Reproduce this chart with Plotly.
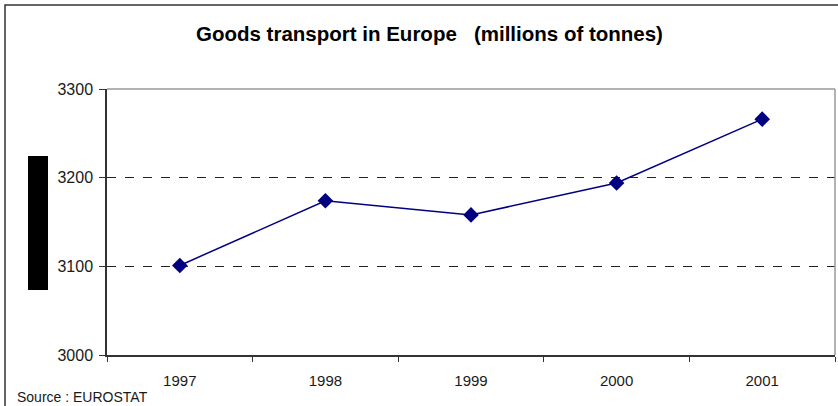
import plotly.graph_objects as go

years = ["1997", "1998", "1999", "2000", "2001"]
tonnes = [3101, 3174, 3158, 3194, 3266]
y_ticks = [3000, 3100, 3200, 3300]

W, H = 838, 406
L, R, T, B = 107, 835, 89, 355
pw, ph = R - L, B - T

def px(x):
    return (x - L) / pw

def py(y):
    return (B - y) / ph

fig = go.Figure()
fig.add_trace(go.Scatter(
    x=years, y=tonnes, mode="lines+markers",
    line=dict(color="#000080", width=1.5),
    marker=dict(symbol="diamond", size=12, color="#000080"),
    showlegend=False, cliponaxis=False,
))

fig.update_layout(
    width=W, height=H,
    margin=dict(l=L, r=W - R, t=T, b=H - B),
    paper_bgcolor="white", plot_bgcolor="white",
    font=dict(family="Liberation Sans, Arial, sans-serif", size=13, color="#1a1a1a"),
    xaxis=dict(
        type="category", tickson="boundaries", ticks="outside", ticklen=5,
        tickcolor="#333333", showgrid=False, showline=True, linecolor="#333333",
        linewidth=1.5, mirror=False, ticklabelstandoff=11,
        range=[-0.5, 4.5], tickfont=dict(size=15),
    ),
    yaxis=dict(
        range=[3000, 3300], tickvals=y_ticks, ticks="outside", ticklen=6,
        tickcolor="#333333", showline=True, linecolor="#333333", linewidth=1.5,
        showgrid=True, gridcolor="#222222", griddash="dash", gridwidth=1,
        zeroline=False, ticklabelstandoff=3, tickfont=dict(size=16),
    ),
    shapes=[
        dict(type="line", xref="paper", yref="paper", x0=0, x1=1, y0=1, y1=1,
             line=dict(color="#999999", width=1.5)),
        dict(type="line", xref="paper", yref="paper", x0=1, x1=1, y0=0, y1=1,
             line=dict(color="#999999", width=1.5)),
        dict(type="rect", xref="paper", yref="paper",
             x0=px(5), x1=px(845), y0=py(5), y1=py(420),
             line=dict(color="#333333", width=1.5)),
        dict(type="rect", xref="paper", yref="paper",
             x0=px(28), x1=px(48), y0=py(290), y1=py(156),
             fillcolor="black", line=dict(width=0)),
    ],
    annotations=[
        dict(text="<b>Goods transport in Europe\u00a0\u00a0 (millions of tonnes)</b>",
             xref="paper", yref="paper", x=px(429), y=py(33),
             xanchor="center", yanchor="middle", showarrow=False,
             font=dict(size=20.5, color="black")),
        dict(text="Source : EUROSTAT", xref="paper", yref="paper",
             x=px(15), y=py(397), xanchor="left", yanchor="middle",
             showarrow=False, font=dict(size=14, color="#1a1a1a")),
    ],
)

fig.write_html("out.html")
